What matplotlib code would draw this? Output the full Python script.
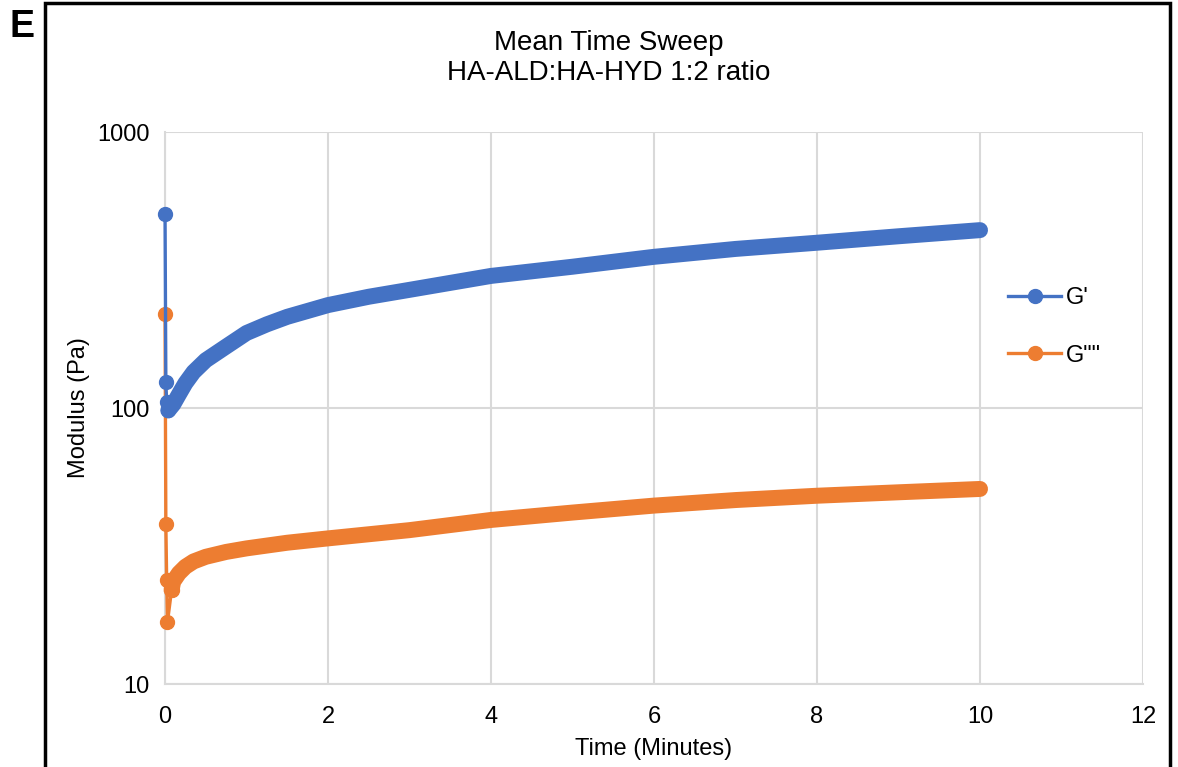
"""Mean Time Sweep (HA-ALD:HA-HYD 1:2) をExcel風に再現するスクリプト"""

import matplotlib.pyplot as plt
from matplotlib.patches import Rectangle

plt.rcParams["font.family"] = ["Liberation Sans", "DejaVu Sans"]

# --- データ ---
# 立ち上がり部分（t≈0 のスパイク）
t_gp_spike = [0.0, 0.01, 0.02, 0.04]
gp_spike = [505, 124, 105, 98]
t_gpp_spike = [0.0, 0.01, 0.02, 0.03, 0.08]
gpp_spike = [219, 38, 23.8, 16.8, 21.9]

# なめらかな部分
t_gp = [0.04, 0.1, 0.17, 0.25, 0.35, 0.5, 0.75, 1, 1.25, 1.5, 2, 2.5, 3, 4, 5, 6, 7, 8, 9, 10]
gp = [98, 103, 112, 123, 135, 149, 167, 187, 201, 214, 236, 253, 268, 301, 325, 353, 377, 397, 419, 441]
t_gpp = [0.08, 0.1, 0.17, 0.25, 0.35, 0.5, 0.75, 1, 1.5, 2, 3, 4, 5, 6, 7, 8, 9, 10]
gpp = [21.9, 23.5, 25.2, 26.6, 27.8, 28.9, 30.1, 31.0, 32.5, 33.7, 36.1, 39.3, 41.8, 44.3, 46.4, 48.1, 49.5, 50.9]

x_ticks = [0, 2, 4, 6, 8, 10, 12]
y_ticks = [10, 100, 1000]

BLUE = "#4472C4"
ORANGE = "#ED7D31"
GRID = "#D9D9D9"

fig = plt.figure(figsize=(11.78, 7.67), dpi=100)
ax = fig.add_axes([0.1401, 0.1082, 0.8302, 0.7197])

def draw_series(ts, vs, tc, vc, color, label):
    line, = ax.plot(ts + tc[1:], vs + vc[1:], color=color, lw=2.4,
                    marker="o", markersize=10, markevery=list(range(len(ts))),
                    label=label, zorder=3, clip_on=False)
    ax.plot(tc, vc, color=color, lw=11.5, solid_capstyle="round",
            solid_joinstyle="round", zorder=3, clip_on=False)
    return line

h1 = draw_series(t_gpp_spike, gpp_spike, t_gpp, gpp, ORANGE, 'G""')
h0 = draw_series(t_gp_spike, gp_spike, t_gp, gp, BLUE, "G'")

ax.set_yscale("log")
ax.set_xlim(0, 12)
ax.set_ylim(10, 1000)
ax.set_xticks(x_ticks)
ax.set_xticklabels([str(v) for v in x_ticks])
ax.set_yticks(y_ticks)
ax.set_yticklabels([str(v) for v in y_ticks])
ax.minorticks_off()
ax.tick_params(axis="y", length=0, labelsize=17, pad=11)
ax.tick_params(axis="x", length=0, labelsize=17, pad=16)
ax.grid(True, color=GRID, lw=1.5)
ax.set_axisbelow(True)
for s in ["top", "right"]:
    ax.spines[s].set_visible(False)
for s in ["left", "bottom"]:
    ax.spines[s].set_color(GRID)
    ax.spines[s].set_linewidth(1.5)

ax.set_xlabel("Time (Minutes)", fontsize=17, labelpad=7)
ax.set_ylabel("Modulus (Pa)", fontsize=17, labelpad=5)

fig.text(0.517, 1 - 43 / 767, "Mean Time Sweep", ha="center", va="center", fontsize=20)
fig.text(0.517, 1 - 73 / 767, "HA-ALD:HA-HYD 1:2 ratio", ha="center", va="center", fontsize=20)

ax.legend(handles=[h0, h1], loc="center left", bbox_to_anchor=(1008 / 1178, 1 - 327 / 767),
          bbox_transform=fig.transFigure, frameon=False, fontsize=17,
          handlelength=2.25, labelspacing=1.5, handletextpad=0.2,
          borderpad=0, borderaxespad=0)

# 枠とパネルラベル
fig.patches.append(Rectangle((45 / 1178, -0.05), (1170 - 45) / 1178, 1.05 - 3 / 767,
                             transform=fig.transFigure, fill=False, ec="black", lw=2.5))
fig.text(22 / 1178, 1 - 27 / 767, "E", ha="center", va="center", fontsize=27,
         fontweight="bold")

fig.savefig("out.png", dpi=100)
